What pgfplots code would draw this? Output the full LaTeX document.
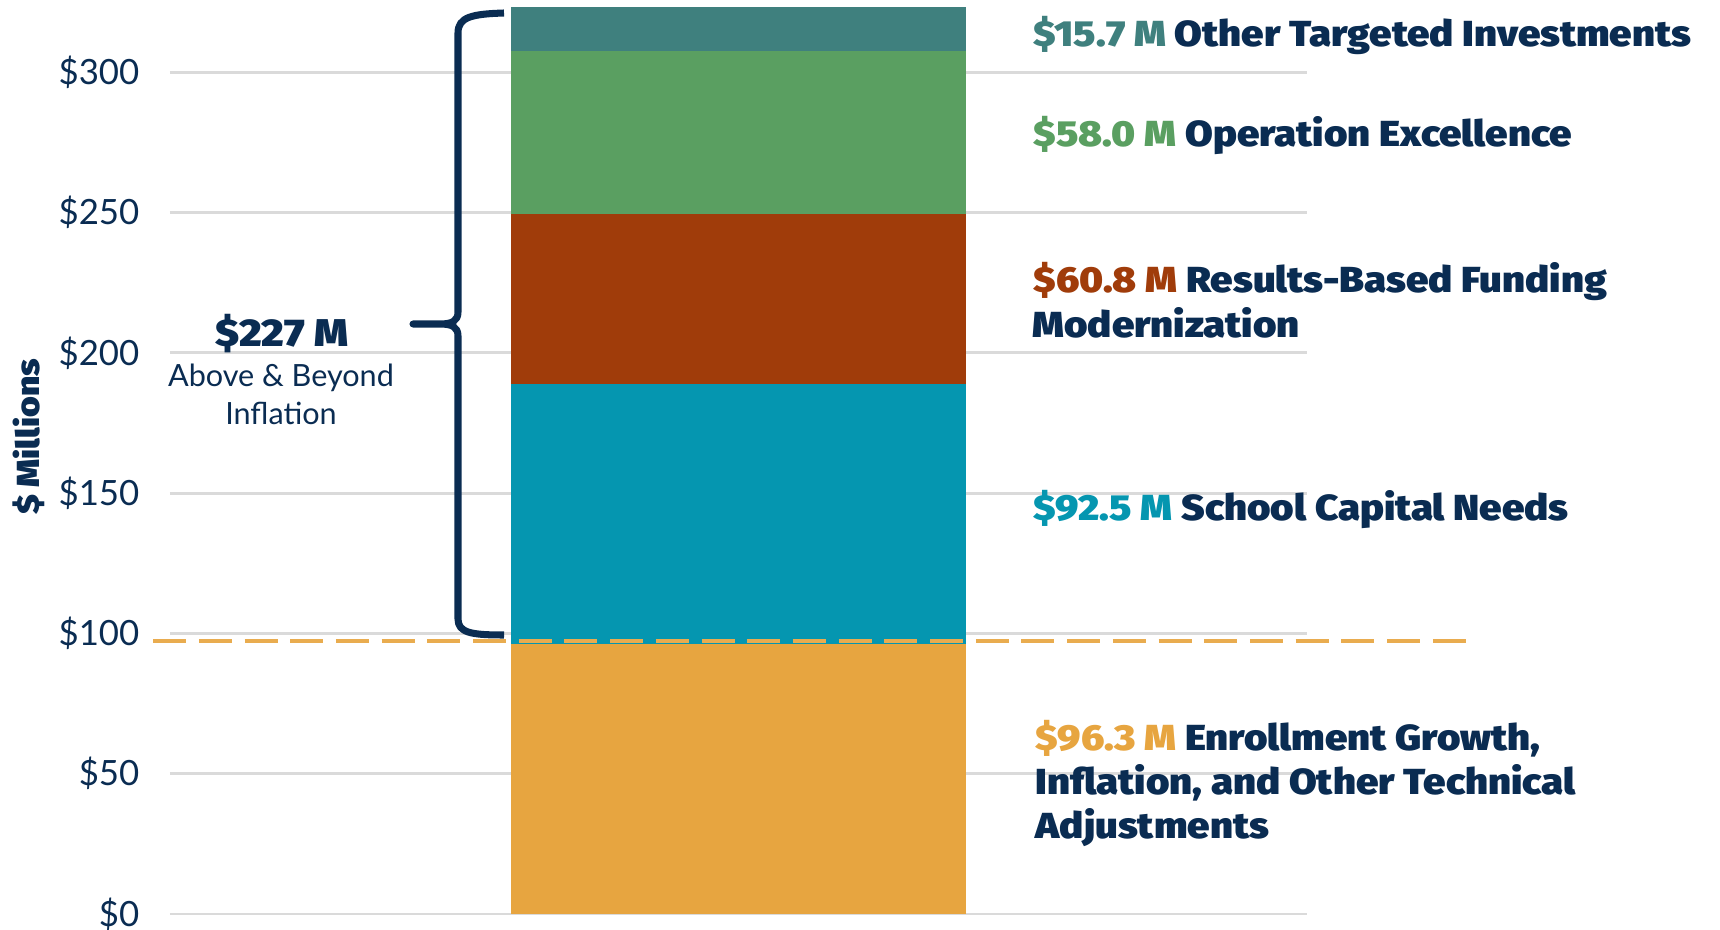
\documentclass[border=0pt]{standalone}
\usepackage{pgfplots}
\pgfplotsset{compat=1.18}
\usepackage{fontspec}
\setmainfont{Lato}
\newfontfamily\heavy{Fira Sans Black}[FakeStretch=1.11]

\definecolor{navy}{HTML}{0A2C52}
\definecolor{gridgray}{HTML}{DADADA}
\definecolor{tealC}{HTML}{3F807E}
\definecolor{greenC}{HTML}{5A9F61}
\definecolor{rustC}{HTML}{A03C0A}
\definecolor{cyanC}{HTML}{0596B0}
\definecolor{orangeC}{HTML}{E7A540}

\newcommand{\lab}{\heavy\fontsize{10.3pt}{12pt}\selectfont}

\begin{document}
\begin{tikzpicture}
\useasboundingbox (0,0) rectangle (17.2,9.29);
\begin{axis}[
    at={(1.70cm,0.15cm)}, anchor=south west,
    scale only axis, width=11.37cm, height=9.14cm,
    xmin=-1.25, xmax=1.25, ymin=0, ymax=325.77,
    axis line style={draw=none},
    xtick=\empty,
    ytick={0,50,...,300},
    yticklabels={\$0,\$50,\$100,\$150,\$200,\$250,\$300},
    major tick length=0pt,
    yticklabel style={font=\fontsize{9.9pt}{12pt}\selectfont, text=navy, inner sep=0pt, xshift=-0.3cm},
    ymajorgrids, grid style={gridgray, line width=0.8pt},
    ybar stacked, bar width=1,
    clip=false,
  ]
  \addplot[fill=orangeC, draw=none] coordinates {(0,96.3)};
  \addplot[fill=cyanC, draw=none] coordinates {(0,92.5)};
  \addplot[fill=rustC, draw=none] coordinates {(0,60.8)};
  \addplot[fill=greenC, draw=none] coordinates {(0,58.0)};
  \addplot[fill=tealC, draw=none] coordinates {(0,15.7)};
  % ends of the inflation line
  \coordinate (infl) at (axis cs:-1.287,97.2);
  \coordinate (infr) at (axis cs:1.604,97.2);
\end{axis}

% inflation line, drawn over the bar
\draw[orangeC!92!white, line width=1.15pt, dash pattern=on 0.33cm off 0.127cm] (infl) -- (infr);

% brace for the 227 M above inflation
\draw[navy, line width=2pt, line join=round]
  (5.04,9.16) .. controls (4.72,9.15) and (4.58,9.12) .. (4.58,8.96)
  -- (4.58,6.17) .. controls (4.58,6.08) and (4.52,6.05) .. (4.40,6.05)
  -- (4.13,6.05) -- (4.40,6.05)
  .. controls (4.52,6.05) and (4.58,6.02) .. (4.58,5.93)
  -- (4.58,3.10) .. controls (4.58,2.96) and (4.72,2.94) .. (5.04,2.94);

\node[anchor=base, text=navy, inner sep=0pt] at (2.82,5.82) {\heavy\fontsize{11pt}{12pt}\selectfont \$227~M};
\node[anchor=base, text=navy, inner sep=0pt, font=\fontsize{8.7pt}{10pt}\selectfont] at (2.81,5.42) {Above \& Beyond};
\node[anchor=base, text=navy, inner sep=0pt, font=\fontsize{8.7pt}{10pt}\selectfont] at (2.81,5.04) {Inflation};

\node[anchor=base, rotate=90, text=navy, inner sep=0pt] at (0.40,4.92) {\heavy\fontsize{9.1pt}{11pt}\selectfont \$ Millions};

% right-hand labels
\node[anchor=base west, inner sep=0pt, text=navy] at (10.33,8.82) {\lab\textcolor{tealC}{\$15.7 M} Other Targeted Investments};
\node[anchor=base west, inner sep=0pt, text=navy] at (10.33,7.82) {\lab\textcolor{greenC}{\$58.0 M} Operation Excellence};
\node[anchor=base west, inner sep=0pt, text=navy] at (10.33,6.36) {\lab\textcolor{rustC}{\$60.8 M} Results-Based Funding};
\node[anchor=base west, inner sep=0pt, text=navy] at (10.32,5.91) {\lab Modernization};
\node[anchor=base west, inner sep=0pt, text=navy] at (10.33,4.085) {\lab\textcolor{cyanC}{\$92.5 M} School Capital Needs};
\node[anchor=base west, inner sep=0pt, text=navy] at (10.35,1.79) {\lab\textcolor{orangeC}{\$96.3 M} Enrollment Growth,};
\node[anchor=base west, inner sep=0pt, text=navy] at (10.35,1.35) {\lab Inflation, and Other Technical};
\node[anchor=base west, inner sep=0pt, text=navy] at (10.35,0.91) {\lab Adjustments};
\end{tikzpicture}
\end{document}
